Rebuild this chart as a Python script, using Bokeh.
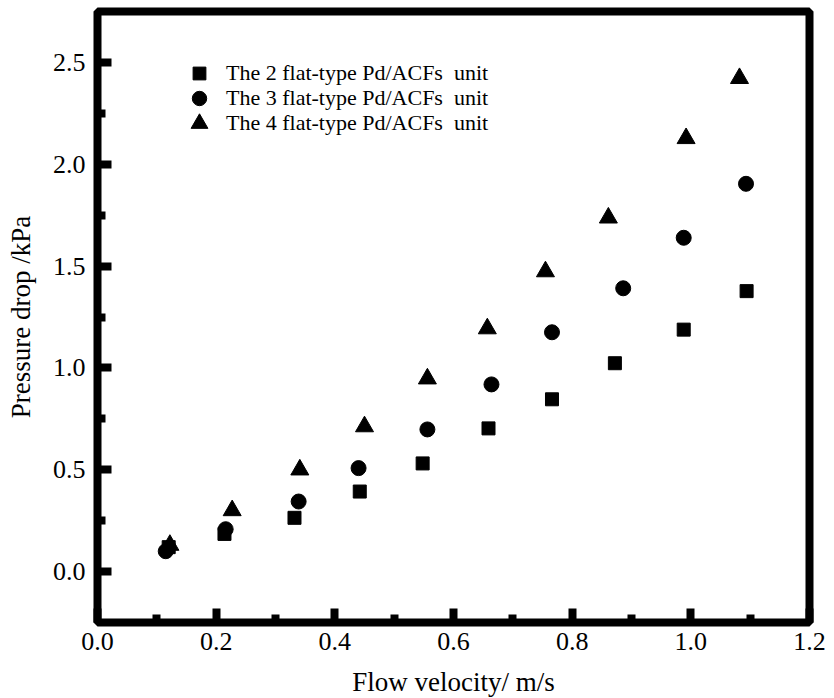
from bokeh.plotting import figure
from bokeh.models import Range1d, FixedTicker, PrintfTickFormatter, Legend, LegendItem
from bokeh.embed import file_html
from bokeh.resources import INLINE

# Data
velocity_2 = [0.120, 0.214, 0.332, 0.442, 0.548, 0.659, 0.766, 0.872, 0.988, 1.094]
drop_2 = [0.120, 0.185, 0.264, 0.393, 0.531, 0.703, 0.846, 1.023, 1.188, 1.377]
velocity_3 = [0.115, 0.216, 0.339, 0.440, 0.556, 0.664, 0.766, 0.886, 0.988, 1.093]
drop_3 = [0.100, 0.208, 0.344, 0.508, 0.698, 0.919, 1.175, 1.391, 1.639, 1.904]
velocity_4 = [0.122, 0.227, 0.341, 0.450, 0.556, 0.657, 0.755, 0.861, 0.992, 1.082]
drop_4 = [0.130, 0.300, 0.500, 0.712, 0.947, 1.193, 1.473, 1.737, 2.127, 2.422]

series_labels = ["The 2 flat-type Pd/ACFs  unit",
                 "The 3 flat-type Pd/ACFs  unit",
                 "The 4 flat-type Pd/ACFs  unit"]
x_ticks = [0.0, 0.2, 0.4, 0.6, 0.8, 1.0, 1.2]
x_minor = [0.1, 0.3, 0.5, 0.7, 0.9, 1.1]
y_ticks = [0.0, 0.5, 1.0, 1.5, 2.0, 2.5]
y_minor = [0.25, 0.75, 1.25, 1.75, 2.25]

FONT = "Liberation Serif"

p = figure(width=834, height=698, output_backend="svg", toolbar_location=None,
           x_range=Range1d(0.0, 1.2), y_range=Range1d(-0.25, 2.75),
           min_border_left=97, min_border_right=25, min_border_top=11, min_border_bottom=76,
           frame_width=712, frame_height=611)
p.background_fill_color = None
p.border_fill_color = "white"
p.grid.visible = False
p.outline_line_color = "black"
p.outline_line_width = 8

r2 = p.scatter(velocity_2, drop_2, marker="square", size=13, color="black")
r3 = p.scatter(velocity_3, drop_3, marker="circle", size=15, color="black")
r4 = p.scatter(velocity_4, drop_4, marker="triangle", size=18, color="black")

for ax in (p.xaxis[0], p.yaxis[0]):
    ax.axis_line_width = 4
    ax.axis_line_color = "black"
    ax.major_tick_in = 14
    ax.major_tick_out = 0
    ax.minor_tick_in = 8
    ax.minor_tick_out = 0
    ax.major_tick_line_width = 8
    ax.minor_tick_line_width = 8
    ax.major_tick_line_color = "black"
    ax.minor_tick_line_color = "black"
    ax.major_label_text_font = FONT
    ax.major_label_text_font_size = "26px"
    ax.major_label_text_color = "black"
    ax.axis_label_text_font = FONT
    ax.axis_label_text_font_size = "27px"
    ax.axis_label_text_font_style = "normal"
    ax.axis_label_text_color = "black"
    ax.formatter = PrintfTickFormatter(format="%.1f")

p.xaxis[0].ticker = FixedTicker(ticks=x_ticks, minor_ticks=x_minor)
p.yaxis[0].ticker = FixedTicker(ticks=y_ticks, minor_ticks=y_minor)
p.xaxis[0].axis_label = "Flow velocity/ m/s"
p.yaxis[0].axis_label = "Pressure drop /kPa"
p.xaxis[0].major_label_standoff = 10
p.yaxis[0].major_label_standoff = 12
p.xaxis[0].axis_label_standoff = 14
p.yaxis[0].axis_label_standoff = 14

# one single-row legend per series so that each marker keeps its own size
renderers = [r2, r3, r4]
glyph_sizes = [32, 36, 42]
row_centers = [73, 98, 123]  # screen y of each row centre
frame_bottom = 622
for label, rend, gs, cy in zip(series_labels, renderers, glyph_sizes, row_centers):
    leg = Legend(items=[LegendItem(label=label, renderers=[rend])],
                 location=(int(199 - gs / 2 - 97), int(frame_bottom - cy - gs / 2)),
                 glyph_width=gs, glyph_height=gs, label_standoff=int(226 - (199 + gs / 2)),
                 padding=0, margin=0, spacing=0,
                 border_line_color=None, background_fill_alpha=0,
                 label_text_font=FONT, label_text_font_size="22px", label_text_color="black")
    p.add_layout(leg, "center")

open("out.html", "w").write(file_html(p, INLINE))
